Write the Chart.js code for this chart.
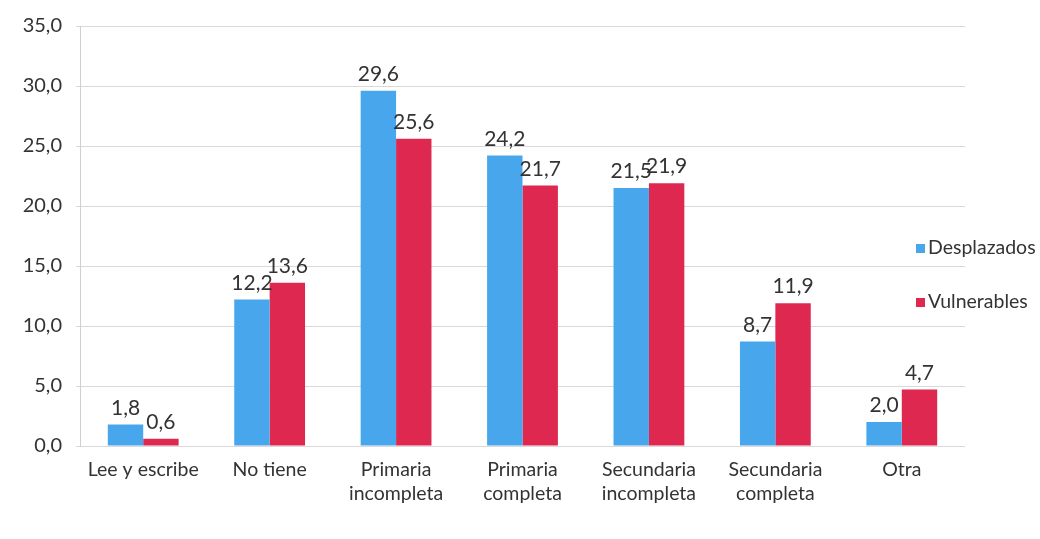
<!DOCTYPE html>
<html>
<head>
<meta charset="utf-8">
<script src="https://cdn.jsdelivr.net/npm/chart.js@4/dist/chart.umd.min.js"></script>
<style>
  html, body { margin: 0; padding: 0; background: #fff; }
  #wrap { position: relative; width: 1040px; height: 539px; }
  #legend { position: absolute; left: 916px; top: 233px; font-family: Lato, sans-serif; font-size: 19.5px; color: #333; }
  #legend div { height: 54px; line-height: 28px; white-space: nowrap; }
  #legend span { display: inline-block; width: 9px; height: 9px; margin-right: 3px; vertical-align: 1px; }
</style>
</head>
<body>
<div id="wrap">
  <canvas id="chart" width="1040" height="539"></canvas>
  <div id="legend"></div>
</div>
<script>
const categories = [
  "Lee y escribe",
  "No tiene",
  ["Primaria", "incompleta"],
  ["Primaria", "completa"],
  ["Secundaria", "incompleta"],
  ["Secundaria", "completa"],
  "Otra"
];
const desplazados = [1.8, 12.2, 29.6, 24.2, 21.5, 8.7, 2.0];
const vulnerables = [0.6, 13.6, 25.6, 21.7, 21.9, 11.9, 4.7];
const seriesNames = ["Desplazados", "Vulnerables"];
const seriesColors = ["#47A6EC", "#DE2850"];

const fmt = v => v.toFixed(1).replace(".", ",");

const valueLabels = {
  id: "valueLabels",
  afterDatasetsDraw(chart) {
    const ctx = chart.ctx;
    ctx.save();
    ctx.font = "21px Lato, sans-serif";
    ctx.fillStyle = "#333";
    ctx.textAlign = "center";
    ctx.textBaseline = "bottom";
    chart.data.datasets.forEach((ds, i) => {
      chart.getDatasetMeta(i).data.forEach((bar, j) => {
        ctx.fillText(fmt(ds.data[j]), bar.x, bar.y - 6);
      });
    });
    ctx.restore();
  }
};

new Chart(document.getElementById("chart"), {
  type: "bar",
  data: {
    labels: categories,
    datasets: [
      { label: seriesNames[0], data: desplazados, backgroundColor: seriesColors[0] },
      { label: seriesNames[1], data: vulnerables, backgroundColor: seriesColors[1] }
    ]
  },
  options: {
    responsive: false,
    animation: false,
    layout: { padding: { top: 26, right: 75, left: 0, bottom: 0 } },
    plugins: { legend: { display: false }, tooltip: { enabled: false } },
    datasets: { bar: { categoryPercentage: 0.56, barPercentage: 1.0 } },
    scales: {
      x: {
        grid: { display: false },
        border: { display: false },
        ticks: { color: "#333", font: { family: "Lato", size: 19.5, lineHeight: 1.22 }, maxRotation: 0, autoSkip: false, padding: 4 },
        afterFit(scale) { scale.height = 93; }
      },
      y: {
        min: 0, max: 35,
        ticks: { stepSize: 5, color: "#333", font: { family: "Lato", size: 20 }, padding: 14, callback: v => fmt(v) },
        grid: { color: "#d9d9d9", tickLength: 4 },
        border: { display: true, color: "#cfcfcf" },
        afterFit(scale) { scale.width = 80; }
      }
    }
  },
  plugins: [valueLabels]
});

const legend = document.getElementById("legend");
seriesNames.forEach((name, i) => {
  const row = document.createElement("div");
  const sw = document.createElement("span");
  sw.style.background = seriesColors[i];
  row.appendChild(sw);
  row.appendChild(document.createTextNode(name));
  legend.appendChild(row);
});
</script>
</body>
</html>
